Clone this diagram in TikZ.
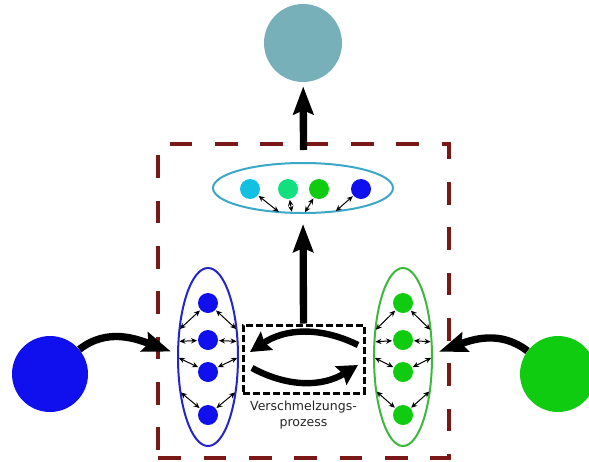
\documentclass[tikz,border=0pt]{standalone}
\usepackage{fontspec}
\setmainfont{DejaVu Sans}
\usetikzlibrary{arrows.meta,shapes.geometric,positioning}

\definecolor{tealgrey}{HTML}{78B0BA}
\definecolor{framered}{HTML}{7A1818}
\definecolor{skyring}{HTML}{3AA8C6}
\definecolor{skydot}{HTML}{12C0E2}
\definecolor{mintdot}{HTML}{12E07E}
\definecolor{leafdot}{HTML}{10CC10}
\definecolor{bluedot}{HTML}{1010EE}
\definecolor{bluering}{HTML}{2424CC}
\definecolor{greenring}{HTML}{3CB83C}

\begin{document}
\begin{tikzpicture}[x=0.75pt,y=-0.75pt]

\tikzstyle{dot}=[circle,inner sep=0pt,minimum size=15pt]
\tikzstyle{source}=[circle,inner sep=0pt,minimum size=57pt]
\tikzstyle{group}=[ellipse,line width=1.5pt,inner sep=0pt]
\tikzstyle{link}=[line width=0.75pt,{Stealth[length=4.5pt,width=4pt]}-{Stealth[length=4.5pt,width=4pt]},shorten <=0.5pt,shorten >=1.5pt]
\tikzstyle{bigarrow}=[line width=5.5pt,-{Stealth[length=21pt,width=15pt,inset=3pt]}]
\tikzstyle{swap}=[line width=4.8pt,-{Stealth[length=15pt,width=16pt,inset=2pt]}]

\useasboundingbox (0,0) rectangle (589,461);

% frame and merge box
\node [draw=framered,line width=3pt,dash pattern=on 17pt off 17pt,minimum width=218pt,minimum height=235.5pt] (frame) at (303.5,301) {};
\node [draw,line width=2.25pt,dash pattern=on 5pt off 2.5pt,minimum width=90.75pt,minimum height=51pt] (merge) at (303.5,359) {};
\node [below=1pt of merge,align=center,font=\fontsize{9.4}{12}\selectfont,text=black!85] (label) {Verschmelzungs-\\prozess};

% top
\node [source,fill=tealgrey,minimum size=58.5pt] (result) at (303,43) {};
\node [group,draw=skyring,minimum width=135pt,minimum height=37.5pt] (tgroup) at (303,188) {};
\node [dot,fill=skydot] (t1) at (250,189) {};
\node [dot,fill=mintdot] (t2) at (288,189) {};
\node [dot,fill=leafdot] (t3) at (319,189) {};
\node [dot,fill=bluedot] (t4) at (361,189) {};

% left
\node [source,fill=bluedot] (lsrc) at (50,374) {};
\node [group,draw=bluering,minimum width=45pt,minimum height=133.5pt] (lgroup) at (208,357) {};
\foreach \n/\y in {1/303,2/340,3/372,4/415}
  \node [dot,fill=bluedot] (l\n) at (208,\y) {};

% right
\node [source,fill=leafdot] (rsrc) at (558,374) {};
\node [group,draw=greenring,minimum width=43.5pt,minimum height=133.5pt] (rgroup) at (403,357) {};
\foreach \n/\y in {1/303,2/340,3/372,4/415}
  \node [dot,fill=leafdot] (r\n) at (403,\y) {};

% links
\foreach \n/\a in {1/228,2/247,3/272,4/322}
  \draw [link] (t\n) -- (tgroup.\a);
\foreach \n/\a/\b in {1/138/42,2/153/27,3/180/0,4/230/310} {
  \draw [link] (l\n) -- (lgroup.\a);
  \draw [link] (l\n) -- (lgroup.\b);
  \draw [link] (r\n) -- (rgroup.\a);
  \draw [link] (r\n) -- (rgroup.\b);
}

% big arrows
\draw [bigarrow,shorten >=3pt] ([yshift=-6pt]frame.north) -- (result);
\draw [bigarrow,shorten >=7.5pt] (merge.north) -- (tgroup.south);
\draw [bigarrow] (lsrc.40) to [out=38,in=160] ([xshift=-4.5pt]lgroup.170);
\draw [bigarrow] (rsrc.143) to [out=142,in=20] ([xshift=4.5pt]rgroup.10);

% merging
\coordinate (s1) at (358,345);
\coordinate (s2) at (250,352);
\coordinate (s3) at (252,368);
\coordinate (s4) at (358,365);
\draw [swap] (s1) to [bend right=30] (s2);
\draw [swap] (s3) to [bend right=30] (s4);

\end{tikzpicture}
\end{document}
